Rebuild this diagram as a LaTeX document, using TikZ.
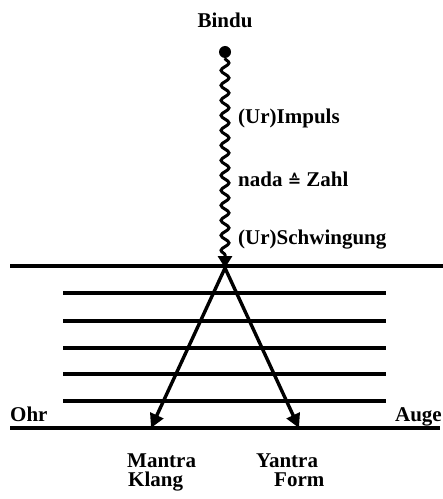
\documentclass[tikz,border=0pt]{standalone}
\usepackage{fontspec}
\setmainfont{Liberation Serif}
\newfontfamily\symfont{DejaVu Sans}
\usetikzlibrary{arrows.meta,decorations.pathmorphing}
\begin{document}
\begin{tikzpicture}[x=1bp,y=-1bp,
  lbl/.style={font=\fontsize{21bp}{23bp}\selectfont\bfseries, inner sep=0pt},
  level/.style={line width=3.2bp},
  ray/.style={line width=3.4bp, -{Triangle[length=14bp,width=14bp]}},
  wave/.style={line width=3bp, decorate, decoration={snake, segment length=15bp, amplitude=4bp, post length=8bp},
    -{Triangle[length=12bp,width=14bp]}}]
\useasboundingbox (0,0) rectangle (443,499);
% levels
\draw[level] (10,266) -- (443,266);
\foreach \yy in {293,321,348,374,401} \draw[level] (63,\yy) -- (386,\yy);
\draw[level] (10,428) -- (440,428);
% nodes
\node[lbl, anchor=base] (bindu) at (225,28) {Bindu};
\node[circle, fill, inner sep=0pt, minimum size=12bp] (dot) at (225,52) {};
\coordinate (apex) at (225,268);
\coordinate (lend) at (151,428);
\coordinate (rend) at (299,428);
\draw[wave] (dot.south) -- (apex);
\draw[ray] (apex) -- (lend);
\draw[ray] (apex) -- (rend);
\node[lbl, anchor=base west] (imp) at (238,124) {(Ur)Impuls};
\node[lbl, anchor=base west] (nada) at (238,187) {nada {\symfont\fontsize{16bp}{17bp}\selectfont ≙} Zahl};
\node[lbl, anchor=base west] (schw) at (238,244) {(Ur)Schwingung};
\node[lbl, anchor=base west] (ohr) at (10,421) {Ohr};
\node[lbl, anchor=base east] (auge) at (442,421) {Auge};
\node[lbl, anchor=base west] (mantra) at (127,467) {Mantra};
\node[lbl, anchor=base west] (klang) at (128,486) {Klang};
\node[lbl, anchor=base west] (yantra) at (256,467) {Yantra};
\node[lbl, anchor=base west] (form) at (274,486) {Form};
\end{tikzpicture}
\end{document}
